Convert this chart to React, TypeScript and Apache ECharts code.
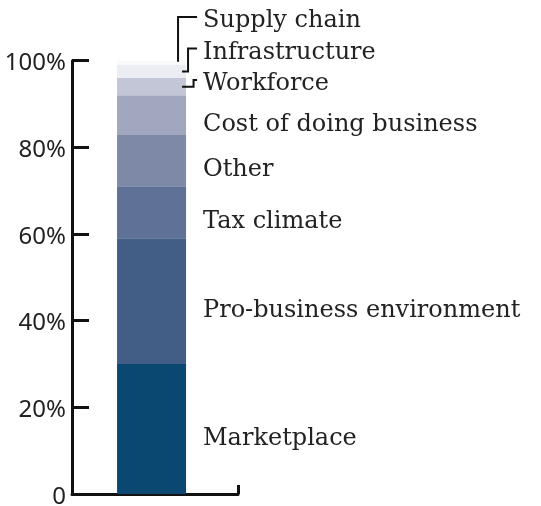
import React, { useEffect, useRef } from "react";
import * as echarts from "echarts";

const categories = ["All"];
const seriesNames = [
  "Marketplace",
  "Pro-business environment",
  "Tax climate",
  "Other",
  "Cost of doing business",
  "Workforce",
  "Infrastructure",
  "Supply chain",
];
const seriesValues = [30, 29, 12, 12, 9, 4, 3, 1];
const seriesColors = [
  "#0b4871",
  "#425e87",
  "#5f7196",
  "#7e89a8",
  "#a3a6bf",
  "#c3c6d6",
  "#ecedf2",
  "#f9f9fb",
];
const yTicks = [0, 20, 40, 60, 80, 100];
const calloutNames = ["Workforce", "Infrastructure", "Supply chain"];

const LABEL_FONT = '"DejaVu Serif", serif';
const TICK_FONT = '"Noto Sans", sans-serif';
const BAR_WIDTH = 69;
const LABEL_SIZE = 24;

export default function App() {
  const ref = useRef<HTMLDivElement>(null);
  useEffect(() => {
    if (!ref.current) return;
    const chart = echarts.init(ref.current, undefined, { renderer: "svg" });
    const series: any[] = seriesNames.map((name, i) => ({
      name,
      type: "bar",
      stack: "total",
      barWidth: BAR_WIDTH,
      barGap: "-90%",
      data: [seriesValues[i]],
      itemStyle: { color: seriesColors[i] },
      label: {
        show: !calloutNames.includes(name),
        position: "right",
        distance: 17,
        offset: [0, 8],
        formatter: name,
        color: "#222",
        fontFamily: LABEL_FONT,
        fontSize: LABEL_SIZE,
      },
    }));
    // invisible spacer slot so the stacked bar sits slightly left of the category centre
    series.push({
      name: "spacer",
      type: "bar",
      stack: "spacer",
      barWidth: BAR_WIDTH,
      barGap: "-90%",
      data: [0],
      itemStyle: { color: "transparent" },
      silent: true,
    });
    chart.setOption({
      animation: false,
      grid: { left: 72, top: 60.7, bottom: 8.3, right: 303, containLabel: false },
      xAxis: {
        type: "category",
        data: categories,
        boundaryGap: true,
        axisLine: { lineStyle: { color: "#111", width: 3 } },
        axisTick: { show: true, inside: true, length: 9, lineStyle: { color: "#111", width: 3 } },
        axisLabel: { show: false },
      },
      yAxis: {
        type: "value",
        min: 0,
        max: 100,
        interval: 20,
        splitLine: { show: false },
        axisLine: { show: true, lineStyle: { color: "#111", width: 3 } },
        axisTick: { show: true, inside: true, length: 17, lineStyle: { color: "#111", width: 3 } },
        axisLabel: {
          margin: 6,
          color: "#222",
          fontFamily: TICK_FONT,
          fontSize: 24,
          lineHeight: 18,
          formatter: (v: number) => (yTicks.includes(v) ? (v === 0 ? "0" : v + "%") : ""),
        },
      },
      series,
    });

    // callouts computed from the chart's own scales
    const cx = chart.convertToPixel({ xAxisIndex: 0 }, categories[0]) as number;
    const barRight = cx - 3.45 + BAR_WIDTH / 2;
    const yPx = (v: number) => chart.convertToPixel({ yAxisIndex: 0 }, v) as number;
    const cum: number[] = [];
    seriesValues.reduce((a, v, i) => ((cum[i] = a + v), a + v), 0);
    const mid = (name: string) => {
      const i = seriesNames.indexOf(name);
      return yPx(cum[i] - seriesValues[i] / 2);
    };
    const wIdx = seriesNames.indexOf("Workforce");
    const baseY = yPx(cum[wIdx]) + 2;
    const step = 31.5;
    const labelX = barRight + 17;
    const lineEnd = labelX - 6;
    const elements: any[] = [];
    const lineStyle = { stroke: "#111", lineWidth: 2, fill: null };
    calloutNames.forEach((name, k) => {
      const ly = baseY - step * k;
      const sy = mid(name);
      let pts: number[][];
      if (name === "Supply chain") {
        pts = [[barRight - 8, yPx(cum[seriesNames.indexOf(name)]) + 1], [barRight - 8, ly], [lineEnd, ly]];
      } else {
        const vx = name === "Workforce" ? barRight + 7.5 : barRight + 2;
        pts = [[barRight - 4, sy], [vx, sy], [vx, ly], [lineEnd, ly]];
      }
      elements.push({ type: "polyline", shape: { points: pts }, style: lineStyle, z: 10 });
      elements.push({
        type: "text",
        x: labelX,
        y: ly + 2,
        style: {
          text: name,
          fill: "#222",
          font: `${LABEL_SIZE}px ${LABEL_FONT}`,
          verticalAlign: "middle",
          align: "left",
        },
        z: 10,
      });
    });
    chart.setOption({ graphic: elements });
    return () => chart.dispose();
  }, []);
  return (
    <div
      ref={ref}
      style={{ width: 541, height: 506, position: "fixed", left: 0, top: 0 }}
    />
  );
}
